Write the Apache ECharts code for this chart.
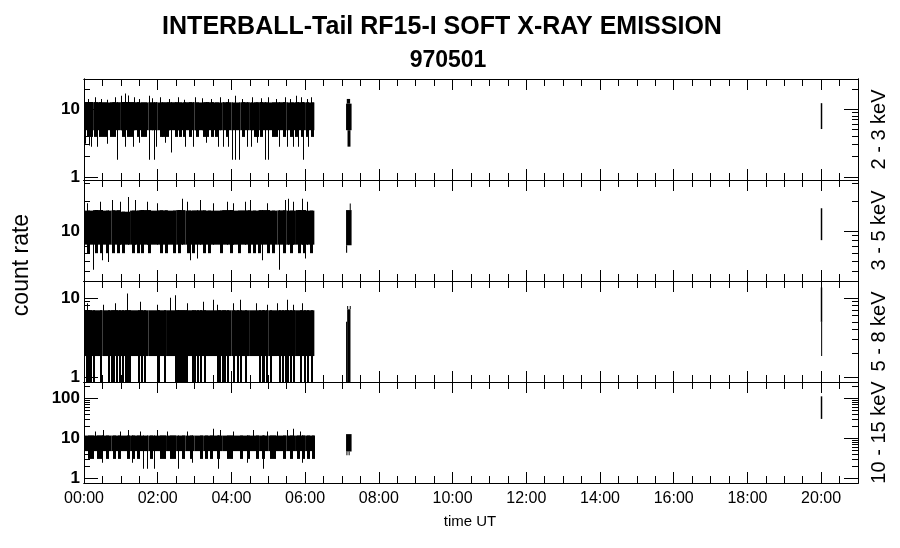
<!DOCTYPE html>
<html><head><meta charset="utf-8">
<script src="https://cdn.jsdelivr.net/npm/echarts@6/dist/echarts.min.js"></script>
<style>html,body{margin:0;padding:0;background:#fff}#c{width:900px;height:548px}</style>
</head><body><div id="c"></div>
<script>
// ---------- labels ----------
const titleText = 'INTERBALL-Tail RF15-I SOFT X-RAY EMISSION';
const subtitleText = '970501';
const yTitle = 'count rate';
const xTitle = 'time UT';
const panelNames = ['2 - 3 keV', '3 - 5 keV', '5 - 8 keV', '10 - 15 keV'];
const xTickValues = [0, 2, 4, 6, 8, 10, 12, 14, 16, 18, 20];
const xTickLabels = ['00:00','02:00','04:00','06:00','08:00','10:00','12:00','14:00','16:00','18:00','20:00'];

// ---------- time bins of the dense record (hours UT) ----------
const binStart = [0,0.25,0.5,0.75,1,1.25,1.5,1.75,2,2.25,2.5,2.75,3,3.25,3.5,3.75,4,4.25,4.5,4.75,5,5.25,5.5,5.75,6];
const binEnd   = [0.25,0.5,0.75,1,1.25,1.5,1.75,2,2.25,2.5,2.75,3,3.25,3.5,3.75,4,4.25,4.5,4.75,5,5.25,5.5,5.75,6,6.25];

// ---------- panel 1: 2 - 3 keV ----------
const p1Hi = [12.8,12.7,12.6,12.7,12.8,12.7,12.6,12.7,12.6,12.7,12.6,12.7,12.6,12.7,12.6,12.7,12.6,12.7,12.6,12.7,12.6,12.7,12.6,12.7,12.6];
const p1Lo = [4.9,4.9,4.9,4.9,4.9,4.9,4.9,4.9,4.9,4.9,4.9,4.9,4.9,4.9,4.9,4.9,4.9,4.9,4.9,4.9,4.9,4.9,4.9,4.9,4.9];
const p1UpT = [0.12,0.30,0.45,0.62,0.85,1.00,1.12,1.20,1.35,1.50,1.75,1.85,2.05,2.30,2.55,2.70,3.00,3.20,3.45,3.70,3.90,4.10,4.30,4.55,4.80,5.00,5.20,5.45,5.60,5.75,5.90,6.05,6.15];
const p1UpV = [14.2,15.0,14.2,13.8,15.0,15.8,17.1,16.0,15.0,14.2,15.8,14.5,15.0,14.2,15.0,13.8,15.0,14.5,14.2,15.0,14.2,15.8,14.2,15.0,14.5,15.0,14.2,15.0,14.2,15.8,15.0,14.2,15.0];
const p1DownT = [0.03,0.13,0.19,0.34,0.62,0.90,1.11,1.34,1.50,1.77,1.90,1.95,2.20,2.36,2.74,2.97,3.30,3.64,3.78,3.92,4.01,4.10,4.21,4.41,4.52,4.70,4.91,5.00,5.30,5.52,5.66,5.81,5.95,6.09];
const p1DownV = [3.1,2.9,2.8,2.8,3.1,1.8,2.8,2.8,3.2,1.8,1.8,2.8,3.2,2.3,2.8,2.8,3.2,2.8,2.8,2.8,1.8,1.8,1.8,2.8,2.8,3.2,1.8,1.8,2.8,2.8,2.8,2.8,1.8,2.8];
const p1TeethT = [0.08,0.16,0.28,0.40,0.50,0.58,0.70,0.78,1.02,1.18,1.26,1.45,1.55,1.62,2.05,2.12,2.22,2.48,2.58,2.68,2.85,3.05,3.22,3.32,3.45,3.55,3.85,4.30,4.60,4.68,4.78,5.10,5.18,5.40,5.60,5.72,5.88,6.02,6.15];
const p1TeethV = [3.9,3.9,3.9,3.9,3.9,3.9,3.9,3.9,3.9,3.9,3.9,3.9,3.9,3.9,3.9,3.9,3.9,3.9,3.9,3.9,3.9,3.9,3.9,3.9,3.9,3.9,3.9,3.9,3.9,3.9,3.9,3.9,3.9,3.9,3.9,3.9,3.9,3.9,3.9];
const p1BlockT0 = [7.11, 7.13, 7.15, 19.99];
const p1BlockT1 = [7.26, 7.22, 7.23, 20.03];
const p1BlockLo = [4.9, 12.1, 2.8, 5.1];
const p1BlockHi = [12.1, 14.2, 4.9, 12.3];

// ---------- panel 2: 3 - 5 keV ----------
const p2Hi = [16.0,16.2,16.0,16.1,15.6,16.0,16.2,16.0,16.1,16.0,16.2,16.0,16.1,16.0,16.0,16.2,16.0,16.1,16.0,16.2,16.0,16.1,16.0,16.2,16.0];
const p2Lo = [7.3,7.3,7.3,7.3,7.3,7.3,7.3,7.3,7.3,7.3,7.3,7.3,7.3,7.3,7.3,7.3,7.3,7.3,7.3,7.3,7.3,7.3,7.3,7.3,7.3];
const p2UpT = [0.07,0.43,0.75,0.98,1.20,1.38,1.70,1.97,2.65,2.79,3.15,3.51,3.87,4.05,4.37,4.50,4.96,5.45,5.54,5.68,5.91,6.04];
const p2UpV = [19.0,19.6,20.4,19.6,21.9,20.4,19.6,19.0,21.0,19.6,20.4,19.0,19.6,19.0,19.6,20.4,19.0,20.4,21.0,19.6,21.0,19.6];
const p2DownT = [0.24,0.48,0.66,2.88,3.06,4.82,5.30,6.00];
const p2DownV = [4.1,5.1,4.9,5.1,5.3,5.1,4.1,5.3];
const p2TeethT = [0.09,0.30,0.43,0.60,0.75,0.89,1.02,1.29,1.43,1.56,1.74,2.06,2.20,2.42,2.56,2.79,2.92,3.24,3.37,3.69,3.96,4.19,4.46,4.59,4.73,4.96,5.09,5.41,5.59,5.81,5.95,6.13];
const p2TeethV = [6.0,6.0,6.0,6.0,6.0,6.0,6.0,6.0,6.0,6.0,6.0,6.0,6.0,6.0,6.0,6.0,6.0,6.0,6.0,6.0,6.0,6.0,6.0,6.0,6.0,6.0,6.0,6.0,6.0,6.0,6.0,6.0];
const p2BlockT0 = [7.11, 7.21, 7.11, 19.99];
const p2BlockT1 = [7.26, 7.23, 7.14, 20.03];
const p2BlockLo = [7.2, 16.0, 6.06, 8.1];
const p2BlockHi = [16.2, 18.9, 7.2, 16.9];

// ---------- panel 3: 5 - 8 keV ----------
const p3Hi = [7.0,7.0,7.0,7.0,7.0,7.0,7.0,7.0,7.0,7.0,7.0,7.0,7.0,7.0,7.0,7.0,7.0,7.0,7.0,7.0,7.0,7.0,7.0,7.0,7.0];
const p3Lo = [1.85,1.85,1.85,1.85,1.85,1.85,1.85,1.85,1.85,1.85,1.85,1.85,1.85,1.85,1.85,1.85,1.85,1.85,1.85,1.85,1.85,1.85,1.85,1.85,1.85];
const p3UpT = [0.09,0.52,0.84,1.16,1.52,1.97,2.33,2.47,2.79,3.24,3.51,3.60,4.05,4.23,4.68,4.96,5.23,5.50,5.68,5.91];
const p3UpV = [8.6,8.2,8.6,11.4,9.0,8.2,10.1,10.8,8.6,9.0,9.5,8.2,8.6,9.5,8.6,8.2,8.6,9.5,8.2,8.6];
const p3DownT = [];
const p3DownV = [];
const p3TeethT = [0.05,0.10,0.16,0.25,0.43,0.64,0.72,0.80,0.87,0.94,1.03,1.12,1.18,1.23,1.47,1.54,1.63,1.97,2.02,2.17,2.47,2.51,2.56,2.60,2.65,2.71,2.77,2.92,2.98,3.07,3.15,3.26,3.60,3.67,3.74,3.80,3.87,4.05,4.16,4.23,4.37,4.76,4.82,4.86,4.94,5.06,5.30,5.36,5.45,5.52,5.59,5.66,5.86,5.97,6.06,6.15];
const p3TeethV = [0.87,0.87,0.87,0.87,0.87,0.87,0.87,0.87,0.87,0.87,0.87,0.87,0.87,0.87,0.87,0.87,0.87,0.87,0.87,0.87,0.87,0.87,0.87,0.87,0.87,0.87,0.87,0.87,0.87,0.87,0.87,0.87,0.87,0.87,0.87,0.87,0.87,0.87,0.87,0.87,0.87,0.87,0.87,0.87,0.87,0.87,0.87,0.87,0.87,0.87,0.87,0.87,0.87,0.87,0.87,0.87];
const p3BlockT0 = [7.11, 7.14, 7.14, 7.21, 19.99, 20.00];
const p3BlockT1 = [7.14, 7.23, 7.15, 7.22, 20.03, 20.02];
const p3BlockLo = [0.87, 0.87, 7.2, 7.2, 5.0, 1.85];
const p3BlockHi = [5.0, 7.2, 7.9, 7.9, 13.6, 5.0];

// ---------- panel 4: 10 - 15 keV ----------
const p4Hi = [11.5,11.5,11.5,11.5,11.5,11.5,11.5,11.5,11.5,11.5,11.5,11.5,11.5,11.5,11.5,11.5,11.5,11.5,11.5,11.5,11.5,11.5,11.5,11.5,11.5];
const p4Lo = [4.7,4.7,4.7,4.7,4.7,4.7,4.7,4.7,4.7,4.7,4.7,4.7,4.7,4.7,4.7,4.7,4.7,4.7,4.7,4.7,4.7,4.7,4.7,4.7,4.7];
const p4UpT = [0.30,0.52,0.98,1.20,1.52,1.97,2.24,2.79,3.51,3.69,4.05,4.59,4.96,5.23,5.50,5.68,5.86];
const p4UpV = [14.5,15.8,14.5,15.8,14.5,15.8,14.5,14.5,17.0,15.8,14.5,15.8,14.5,14.5,15.8,17.0,14.5];
const p4DownT = [0.48,1.29,1.61,1.70,1.90,2.56,2.92,3.64,4.41,4.86,5.91];
const p4DownV = [2.4,2.4,1.7,1.7,1.7,1.7,2.4,1.7,2.4,1.7,2.4];
const p4TeethT = [0.12,0.18,0.34,0.43,0.61,0.79,0.93,1.16,1.29,1.43,1.79,2.06,2.15,2.33,2.42,2.65,2.88,3.15,3.28,3.42,3.60,3.87,3.96,4.23,4.41,4.68,4.82,5.05,5.14,5.41,5.59,5.77,5.91,6.04,6.18];
const p4TeethV = [3.0,3.0,3.0,3.0,3.0,3.0,3.0,3.0,3.0,3.0,3.0,3.0,3.0,3.0,3.0,3.0,3.0,3.0,3.0,3.0,3.0,3.0,3.0,3.0,3.0,3.0,3.0,3.0,3.0,3.0,3.0,3.0,3.0,3.0,3.0];
const p4BlockT0 = [7.11, 7.12, 7.18, 19.99];
const p4BlockT1 = [7.26, 7.13, 7.19, 20.03];
const p4BlockLo = [4.6, 3.7, 3.7, 30];
const p4BlockHi = [12.5, 4.6, 4.6, 110];

// ---------- y-axis ranges & ticks ----------
const yMin = [0.9, 3.16, 0.87, 0.75];
const yMax = [28, 32.4, 16.4, 251];
const yMajor = [[1, 10], [10], [1, 10], [1, 10, 100]];
const yMinor = [
  [2,3,4,5,6,7,8,9,20],
  [4,5,6,7,8,9,20,30],
  [2,3,4,5,6,7,8,9],
  [2,3,4,5,6,7,8,9,20,30,40,50,60,70,80,90,200]
];

const panels = [
  {hi:p1Hi, lo:p1Lo, upT:p1UpT, upV:p1UpV, dnT:p1DownT, dnV:p1DownV, thT:p1TeethT, thV:p1TeethV, b0:p1BlockT0, b1:p1BlockT1, bl:p1BlockLo, bh:p1BlockHi, tw:3},
  {hi:p2Hi, lo:p2Lo, upT:p2UpT, upV:p2UpV, dnT:p2DownT, dnV:p2DownV, thT:p2TeethT, thV:p2TeethV, b0:p2BlockT0, b1:p2BlockT1, bl:p2BlockLo, bh:p2BlockHi, tw:3},
  {hi:p3Hi, lo:p3Lo, upT:p3UpT, upV:p3UpV, dnT:p3DownT, dnV:p3DownV, thT:p3TeethT, thV:p3TeethV, b0:p3BlockT0, b1:p3BlockT1, bl:p3BlockLo, bh:p3BlockHi, tw:2},
  {hi:p4Hi, lo:p4Lo, upT:p4UpT, upV:p4UpV, dnT:p4DownT, dnV:p4DownV, thT:p4TeethT, thV:p4TeethV, b0:p4BlockT0, b1:p4BlockT1, bl:p4BlockLo, bh:p4BlockHi, tw:3}
];

// ---------- layout ----------
const FONT = '"Liberation Sans", Arial, Helvetica, sans-serif';
const gridLeft = 84, gridWidth = 774, gridH = 101;
const gridTops = [79, 180, 281, 382];
const xMinor = [];
for (let h = 0.5; h < 21; h += 0.5) if (h % 2 !== 0) xMinor.push(h);

function binIndex(t) {
  for (let i = 0; i < binStart.length; i++) if (t >= binStart[i] && t < binEnd[i]) return i;
  return binStart.length - 1;
}

function buildData(p) {
  const d = [];
  for (let i = 0; i < binStart.length; i++) d.push([binStart[i], binEnd[i], p.lo[i], p.hi[i], 0]);
  for (let i = 0; i < p.b0.length; i++) d.push([p.b0[i], p.b1[i], p.bl[i], p.bh[i], 0]);
  for (let i = 0; i < p.upT.length; i++) { const k = binIndex(p.upT[i]); d.push([p.upT[i], p.upT[i], p.lo[k], p.upV[i], 1]); }
  for (let i = 0; i < p.dnT.length; i++) { const k = binIndex(p.dnT[i]); d.push([p.dnT[i], p.dnT[i], p.dnV[i], p.hi[k], 1]); }
  for (let i = 0; i < p.thT.length; i++) { const k = binIndex(p.thT[i]); d.push([p.thT[i], p.thT[i], p.thV[i], p.hi[k], p.tw]); }
  return d;
}

function renderItem(params, api) {
  const t0 = api.value(0), t1 = api.value(1), lo = api.value(2), hi = api.value(3), kind = api.value(4);
  const a = api.coord([t0, hi]), b = api.coord([t1, lo]);
  let x = a[0], w = b[0] - a[0];
  if (kind > 0) { x = Math.round(a[0]); w = kind; }
  else { w = Math.max(w, 1); }
  return { type: 'rect', shape: { x: x, y: a[1], width: w, height: b[1] - a[1] }, style: { fill: '#000' } };
}

const grids = [], xAxes = [], yAxes = [], series = [];
const black = { color: '#000', width: 1 };
for (let g = 0; g < 4; g++) {
  grids.push({ left: gridLeft, width: gridWidth, top: gridTops[g], height: gridH, containLabel: false });
  const mkX = (pos, ticks, len, labels) => ({
    gridIndex: g, type: 'value', min: 0, max: 21, position: pos,
    axisLine: { show: true, onZero: false, lineStyle: black },
    axisTick: { show: true, inside: true, length: len, customValues: ticks, lineStyle: black },
    axisLabel: labels ? { show: true, customValues: xTickValues, margin: 8,
      formatter: v => xTickLabels[xTickValues.indexOf(v)] || '',
      color: '#000', fontSize: 16, fontFamily: FONT } : { show: false },
    splitLine: { show: false }, minorTick: { show: false }
  });
  const xMain = xAxes.length;
  xAxes.push(mkX('bottom', xTickValues, 11, g === 3));
  xAxes.push(mkX('bottom', xMinor, 7, false));
  xAxes.push(mkX('top', xTickValues, 11, false));
  xAxes.push(mkX('top', xMinor, 7, false));
  const mkY = (pos, ticks, len, labels) => ({
    gridIndex: g, type: 'log', logBase: 10, min: yMin[g], max: yMax[g], position: pos,
    axisLine: { show: true, onZero: false, lineStyle: black },
    axisTick: { show: true, inside: true, length: len, customValues: ticks, lineStyle: black },
    axisLabel: labels ? { show: true, customValues: yMajor[g], margin: 4,
      formatter: v => String(Math.round(v)),
      color: '#000', fontSize: 17, fontWeight: 'bold', fontFamily: FONT } : { show: false },
    splitLine: { show: false }, minorTick: { show: false }
  });
  const yMain = yAxes.length;
  yAxes.push(mkY('left', yMajor[g], 14, true));
  yAxes.push(mkY('left', yMinor[g], 6, false));
  yAxes.push(mkY('right', yMajor[g], 14, false));
  yAxes.push(mkY('right', yMinor[g], 6, false));
  series.push({
    type: 'custom', xAxisIndex: xMain, yAxisIndex: yMain, clip: true,
    renderItem: renderItem, encode: { x: [0, 1], y: [2, 3] },
    data: buildData(panels[g]), silent: true, animation: false
  });
}

const graphics = [
  { type: 'text', x: 442, y: 27, style: { text: titleText, font: 'bold 25px ' + FONT, fill: '#000', textAlign: 'center', textVerticalAlign: 'middle' } },
  { type: 'text', x: 448, y: 61, style: { text: subtitleText, font: 'bold 23px ' + FONT, fill: '#000', textAlign: 'center', textVerticalAlign: 'middle' } },
  { type: 'text', x: 470, y: 522, style: { text: xTitle, font: '15px ' + FONT, fill: '#000', textAlign: 'center', textVerticalAlign: 'middle' } },
  { type: 'text', x: 22, y: 265, rotation: Math.PI / 2, style: { text: yTitle, font: '23px ' + FONT, fill: '#000', textAlign: 'center', textVerticalAlign: 'middle' } }
];
for (let g = 0; g < 4; g++) {
  graphics.push({ type: 'text', x: 879, y: gridTops[g] + gridH / 2, rotation: Math.PI / 2,
    style: { text: panelNames[g], font: '20px ' + FONT, fill: '#000', textAlign: 'center', textVerticalAlign: 'middle' } });
}

const chart = echarts.init(document.getElementById('c'), null, { renderer: 'canvas' });
chart.setOption({
  backgroundColor: '#fff', animation: false,
  grid: grids, xAxis: xAxes, yAxis: yAxes, series: series, graphic: graphics
});
</script>
</body></html>
